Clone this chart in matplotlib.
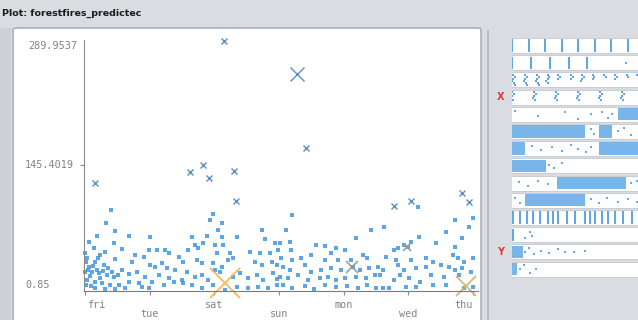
import matplotlib
matplotlib.use("Agg")
import matplotlib.pyplot as plt
from matplotlib.patches import Rectangle, FancyBboxPatch

W, H = 638, 320

# day order as it appears on the x axis (nominal, jittered positions)
days = ["fri", "tue", "sat", "sun", "mon", "wed", "thu"]
y_min, y_mid, y_max = 0.85, 145.4019, 289.9537

# small "dots" (tiny errors): (jittered day position, area)
fri_tue_pts = [
    (0.40, 93.7), (0.32, 78.6), (0.46, 69.3), (0.19, 63.5), (0.06, 56.5), (0.68, 63.5),
    (0.45, 55.4), (1.00, 62.3), (0.31, 45.0), (0.57, 48.4), (0.99, 47.3), (1.11, 47.3),
    (1.24, 47.3), (1.30, 43.8), (0.14, 49.6), (0.00, 43.8), (0.77, 41.5), (0.91, 39.1),
    (0.73, 33.3), (0.23, 41.5), (0.15, 33.3), (0.46, 36.8), (0.29, 29.9), (0.06, 27.5),
    (0.00, 21.7), (0.11, 21.7), (0.22, 20.6), (0.34, 18.3), (0.45, 16.0), (0.57, 24.0),
    (0.68, 19.4), (0.80, 21.7), (0.93, 16.0), (1.00, 29.9), (1.08, 27.5), (1.19, 32.2),
    (1.27, 26.4), (1.39, 24.0), (1.14, 18.3), (1.30, 14.8), (1.45, 39.1), (0.03, 12.5),
    (0.15, 10.1), (0.26, 9.0), (0.39, 6.7), (0.53, 6.7), (0.68, 10.1), (0.83, 9.0),
    (0.99, 3.2), (0.15, 3.2), (0.31, 2.0), (0.46, 2.0), (0.62, 3.2), (0.88, 4.3),
    (1.04, 10.1), (1.22, 6.7), (1.38, 10.1), (0.02, 33.3), (0.05, 24.0), (0.08, 17.1),
    (0.12, 28.7), (0.19, 24.0), (0.23, 14.8), (0.02, 6.7), (0.09, 5.5), (0.28, 22.9),
    (0.36, 26.4), (0.42, 21.7), (0.51, 18.3), (0.20, 38.0), (0.03, 38.0),
]
sat_sun_pts = [
    (1.98, 89.0), (1.93, 82.0), (2.12, 78.6), (2.06, 70.5), (1.65, 62.3), (1.89, 63.5),
    (2.12, 62.3), (2.35, 62.3), (2.74, 70.5), (2.78, 60.0), (2.94, 55.4), (1.82, 55.4),
    (1.70, 53.1), (1.59, 47.3), (1.75, 49.6), (2.01, 53.1), (2.13, 53.1), (2.04, 43.8),
    (2.24, 43.8), (2.55, 45.0), (2.70, 43.8), (2.86, 43.8), (2.98, 47.3), (1.51, 33.3),
    (1.73, 35.7), (1.81, 32.2), (1.98, 32.2), (2.12, 27.5), (2.21, 35.7), (2.29, 38.0),
    (2.63, 33.3), (2.74, 29.9), (2.89, 33.3), (2.97, 29.9), (1.58, 21.7), (1.70, 16.0),
    (1.81, 18.3), (1.90, 12.5), (2.01, 24.0), (2.09, 21.7), (2.29, 16.0), (2.40, 20.6),
    (2.52, 14.8), (2.66, 18.3), (2.75, 12.5), (2.91, 20.6), (1.51, 9.0), (1.65, 6.7),
    (1.81, 3.2), (1.98, 6.7), (2.16, 0.9), (2.35, 4.3), (2.52, 3.2), (2.67, 4.3),
    (2.83, 3.2), (2.97, 6.7), (1.50, 12.5), (2.97, 13.6),
]
sun_mon_pts = [
    (3.20, 87.9), (3.11, 70.5), (3.01, 55.4), (3.17, 56.5), (3.18, 47.3), (3.57, 53.1),
    (3.71, 51.9), (3.88, 49.6), (4.03, 47.3), (4.19, 61.2), (4.42, 70.5), (4.30, 41.5),
    (4.37, 38.0), (3.49, 41.5), (3.03, 38.0), (3.21, 35.7), (3.34, 38.0), (3.71, 35.7),
    (3.80, 43.8), (3.91, 35.7), (4.11, 35.7), (3.06, 27.5), (3.17, 24.0), (3.40, 29.9),
    (3.49, 21.7), (3.65, 24.0), (3.80, 26.4), (3.96, 24.0), (4.14, 27.5), (4.25, 24.0),
    (4.40, 26.4), (3.01, 16.0), (3.14, 14.8), (3.29, 18.3), (3.45, 12.5), (3.63, 14.8),
    (3.76, 16.0), (3.88, 12.5), (4.02, 14.8), (4.19, 16.0), (4.34, 14.8), (4.48, 18.3),
    (3.06, 6.7), (3.21, 3.2), (3.40, 5.5), (3.55, 2.0), (3.71, 6.7), (3.88, 4.3),
    (4.06, 5.5), (4.22, 3.2), (4.37, 6.7), (4.50, 3.2),
]
wed_thu_pts = [
    (5.15, 97.1), (6.00, 84.4), (5.73, 82.0), (4.62, 74.0), (5.94, 74.0), (5.58, 68.1),
    (5.16, 62.3), (5.84, 61.2), (5.04, 56.5), (4.93, 53.1), (4.85, 49.6), (4.78, 47.3),
    (4.99, 50.7), (5.43, 55.4), (5.73, 50.7), (4.65, 39.1), (5.69, 41.5), (5.77, 38.0),
    (5.86, 33.3), (6.00, 38.0), (4.81, 35.7), (5.04, 35.7), (5.27, 38.0), (5.38, 33.3),
    (5.50, 29.9), (4.54, 27.5), (4.61, 24.0), (4.84, 29.9), (4.93, 24.0), (5.12, 26.4),
    (5.27, 27.5), (5.63, 27.5), (5.73, 24.0), (5.84, 26.4), (5.97, 21.7), (4.57, 18.3),
    (4.78, 12.5), (4.88, 18.3), (5.01, 14.8), (5.19, 10.1), (5.35, 18.3), (5.55, 16.0),
    (5.78, 18.3), (4.61, 3.2), (4.70, 3.2), (4.96, 4.3), (5.12, 4.3), (5.38, 6.7),
    (5.58, 6.7), (5.86, 3.2), (6.00, 4.3),
]

# bigger blue crosses (larger values)
cross_day = [2.15, 3.28, 3.42, 0.155, 1.82, 1.62, 1.92, 2.30, 2.33, 4.78, 5.05, 5.83, 5.94]
cross_area = [289.95, 251.4, 165.6, 125.0, 145.8, 137.7, 130.8, 138.9, 104.0, 98.3, 104.0, 113.4, 103.0]
cross_size = [5, 10, 5, 5, 5, 4, 5, 4, 4, 4, 4, 5, 4]

# error crosses near the bottom
err_day = [2.16, 5.90, 4.13, 4.98]
err_area = [9.0, 5.5, 27.5, 50.7]
err_size = [22, 15, 8, 6]
err_color = ["#f7b04c", "#c8b468", "#8d9a9c", "#8fa09a"]

# attribute strips on the right (normalised 0..1)
strip_lines = {
    0: [(v - 1) / 8 for v in range(1, 10)],
    1: [(v - 2) / 7 for v in range(2, 7)],
    10: [0.01, 0.06, 0.11, 0.16, 0.21, 0.27, 0.31, 0.35, 0.42, 0.48, 0.55, 0.59,
         0.63, 0.68, 0.73, 0.78, 0.84, 0.91],
    11: [0.01],
}
month_cols = [0.01, 0.10, 0.19, 0.27, 0.35, 0.45, 0.53, 0.61, 0.70, 0.78, 0.87, 0.95]
month_counts = [6, 6, 6, 5, 3, 3, 4, 3, 2, 3, 2, 2]
day_cols = [i / 6 for i in range(7)]
day_counts = [5, 5, 5, 5, 5, 5, 5]
strip_dense = {
    4: [(0.80, 1.0)],
    5: [(0.0, 0.55), (0.66, 0.76)],
    6: [(0.0, 0.10), (0.66, 1.0)],
    7: [(0.0, 0.26)],
    8: [(0.34, 0.86)],
    9: [(0.10, 0.55)],
    12: [(0.0, 0.08)],
    13: [(0.0, 0.04)],
}
strip_dots = {
    1: [(0.86, 0.5), (1.0, 0.5)],
    4: [(0.02, 0.2), (0.2, 0.6), (0.4, 0.3), (0.5, 0.9), (0.6, 0.5), (0.68, 0.3), (0.73, 0.8), (0.76, 0.5)],
    5: [(0.6, 0.3), (0.62, 0.7), (0.8, 0.5), (0.85, 0.2), (0.9, 0.8)],
    6: [(0.15, 0.3), (0.22, 0.6), (0.3, 0.4), (0.38, 0.7), (0.45, 0.2), (0.5, 0.5), (0.56, 0.8), (0.6, 0.4)],
    7: [(0.28, 0.4), (0.32, 0.7), (0.38, 0.3)],
    8: [(0.05, 0.4), (0.12, 0.7), (0.2, 0.3), (0.27, 0.6), (0.9, 0.5), (0.95, 0.3)],
    9: [(0.02, 0.3), (0.06, 0.7), (0.6, 0.4), (0.66, 0.7), (0.72, 0.3), (0.8, 0.6), (0.88, 0.4), (0.95, 0.6)],
    11: [(0.14, 0.3), (0.15, 0.6), (0.1, 0.8)],
    12: [(0.1, 0.5), (0.13, 0.2), (0.17, 0.7), (0.22, 0.4), (0.28, 0.6), (0.35, 0.3), (0.4, 0.5), (0.47, 0.5), (0.55, 0.4)],
    13: [(0.06, 0.5), (0.09, 0.2), (0.14, 0.8), (0.18, 0.5)],
}
n_strips = 14
x_strip, y_strip = 3, 12

BG = "#d9dce1"
BLUE = "#3f96e3"


def box(x0, y0, x1, y1):
    # pixel box -> figure fraction rect
    return [x0 / W, 1 - y1 / H, (x1 - x0) / W, (y1 - y0) / H]


fig = plt.figure(figsize=(W / 100, H / 100), dpi=100, facecolor=BG)

# panels (behind the axes)
fig.patches.append(Rectangle((0, 0), 11 / W, 1 - 28 / H, transform=fig.transFigure,
                             facecolor="#cdd1d6", edgecolor="none", zorder=-10))
fig.patches.append(FancyBboxPatch((13 / W, -0.05), 468 / W, 1 - 28 / H + 0.05,
                                  boxstyle="round,pad=0,rounding_size=0.006",
                                  transform=fig.transFigure, facecolor="white",
                                  edgecolor="#aab0b7", linewidth=1.2, zorder=-10))
fig.patches.append(Rectangle((487 / W, 0), 2 / W, 1 - 30 / H, transform=fig.transFigure,
                             facecolor="#b9bdc3", edgecolor="none", zorder=-10))
fig.text(2 / W, 1 - 13 / H, "Plot: forestfires_predictec", fontsize=6.8,
         fontweight="bold", va="center", ha="left", color="#1a1a1a")

# main scatter
ax = fig.add_axes(box(84, 40, 478, 291))
ax.set_facecolor("none")
pts = fri_tue_pts + sat_sun_pts + sun_mon_pts + wed_thu_pts
dx, dy = zip(*pts)
ax.scatter(dx, dy, s=5, marker="s", color=BLUE, linewidths=0, alpha=0.85, clip_on=False)
for d, a, s in zip(cross_day, cross_area, cross_size):
    ax.plot(d, a, marker="x", ms=s, mew=1.0, color="#5c8fc4", clip_on=False)
for d, a, s, c in zip(err_day, err_area, err_size, err_color):
    ax.plot(d, a, marker="x", ms=s, mew=1.4, color=c, alpha=0.85, clip_on=False)

ax.set_xlim(-0.015, 6.08)
ax.set_ylim(-0.31, 290.85)
for sp in ["top", "right"]:
    ax.spines[sp].set_visible(False)
ax.spines["left"].set_color("#8a8a8a")
ax.spines["bottom"].set_color("#8a7570")
ax.set_xticks(range(len(days)))
ax.set_xticklabels([])
ax.set_yticks([y_mid])
ax.set_yticklabels([])
ax.tick_params(axis="both", length=3, color="#8a8a8a", width=0.8)

mono = dict(family="DejaVu Sans Mono", fontsize=7.3, color="#828282")
ax.text(-0.018, y_max, f"{y_max:.4f}", ha="right", va="top", transform=ax.get_yaxis_transform(), **mono)
ax.text(-0.025, y_mid, f"{y_mid:.4f}", ha="right", va="center", transform=ax.get_yaxis_transform(), **mono)
ax.text(-0.150, y_min, f"{y_min:.2f}", ha="left", va="bottom", transform=ax.get_yaxis_transform(), **mono)
xt = ax.get_xaxis_transform()
for i, d in enumerate(days):
    yy = -0.055 if i % 2 == 0 else -0.092
    ha = "left" if i == 0 else ("right" if i == len(days) - 1 else "center")
    xx = i + 0.05 if i == 0 else i
    ax.text(xx, yy, d, ha=ha, va="center", transform=xt, **mono)

# attribute strips
sx = fig.add_axes(box(512, 34, 644, 280))
sx.set_xlim(0, 1)
sx.set_ylim((280 - 38) / 17.2, -4 / 17.2)
sx.axis("off")
hgt = 0.87
for k in range(n_strips):
    sx.barh(k + hgt / 2, 1.2, left=-0.005, height=hgt, color="white", edgecolor="#c4c8ce", lw=0.6)
for k, us in strip_lines.items():
    sx.vlines(us, k + 0.08, k + hgt - 0.08, color=BLUE, lw=1.4, alpha=0.85)
squig = [(0.0, 0.15), (0.012, 0.3), (0.0, 0.45), (-0.01, 0.6), (0.006, 0.75), (0.014, 0.88)]
for k, cols, counts in [(2, month_cols, month_counts), (3, day_cols, day_counts)]:
    for u, n in zip(cols, counts):
        xs = [u + o for o, _ in squig[:n]]
        ys = [k + 0.05 + v * (hgt - 0.1) for _, v in squig[:n]]
        sx.scatter(xs, ys, s=4, marker="s", color=BLUE, linewidths=0, alpha=0.85)
for k, spans in strip_dense.items():
    for u0, u1 in spans:
        sx.barh(k + hgt / 2, u1 - u0, left=u0, height=hgt - 0.15, color=BLUE, alpha=0.7, lw=0)
for k, dots in strip_dots.items():
    sx.scatter([u for u, _ in dots], [k + 0.08 + v * (hgt - 0.16) for _, v in dots],
               s=4, marker="s", color=BLUE, linewidths=0, alpha=0.8)
red = dict(color="#e0383a", fontsize=7, fontweight="bold", ha="center", va="center")
sx.text(-0.09, x_strip + hgt / 2, "X", clip_on=False, **red)
sx.text(-0.09, y_strip + hgt / 2, "Y", clip_on=False, **red)

fig.savefig("out.png", dpi=100, facecolor=BG)
